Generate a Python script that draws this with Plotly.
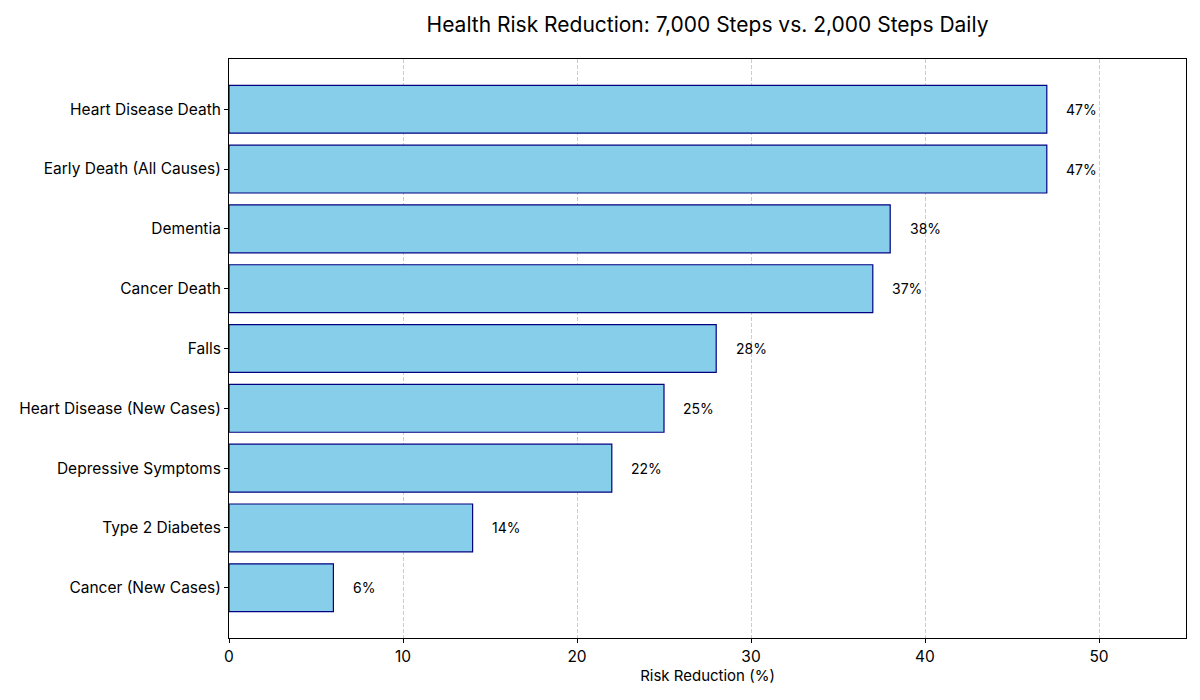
import plotly.graph_objects as go

categories = ["Cancer (New Cases)", "Type 2 Diabetes", "Depressive Symptoms",
              "Heart Disease (New Cases)", "Falls", "Cancer Death", "Dementia",
              "Early Death (All Causes)", "Heart Disease Death"]
values = [6, 14, 22, 25, 28, 37, 38, 47, 47]
labels = [f"{v}%" for v in values]

font_family = "Inter, Roboto, sans-serif"

fig = go.Figure()
fig.add_trace(go.Bar(
    x=values, y=categories, orientation="h",
    marker=dict(color="#87CEEB", line=dict(color="#000080", width=1.2)),
    width=0.8, hoverinfo="x+y",
))

for v, c, t in zip(values, categories, labels):
    fig.add_annotation(x=v + 1, y=c, text=t, xanchor="left", yanchor="middle",
                       showarrow=False, font=dict(size=14, color="black", family=font_family))

fig.update_layout(
    width=1200, height=700,
    paper_bgcolor="white", plot_bgcolor="white",
    margin=dict(l=229, r=14, t=59, b=62),
    title=dict(text="Health Risk Reduction: 7,000 Steps vs. 2,000 Steps Daily",
               x=0.5, xref="paper", xanchor="center", y=1 - 25 / 700, yanchor="middle",
               font=dict(size=21, color="black", family=font_family)),
    font=dict(family=font_family, color="black"),
    showlegend=False,
    bargap=0.2,
)
fig.update_xaxes(
    range=[0, 55], tickvals=[0, 10, 20, 30, 40, 50],
    showgrid=True, gridcolor="rgba(0,0,0,0.2)", griddash="4px,2px", gridwidth=1,
    layer="above traces",
    showline=True, linecolor="black", linewidth=1, mirror=True,
    ticks="outside", ticklen=4, tickcolor="black",
    tickfont=dict(size=15.5, family=font_family),
    title=dict(text="Risk Reduction (%)", font=dict(size=15, family=font_family), standoff=4),
    zeroline=False,
)
fig.update_yaxes(
    range=[-0.84, 8.84], showgrid=False,
    showline=True, linecolor="black", linewidth=1, mirror=True,
    ticks="outside", ticklen=4, tickcolor="black",
    tickfont=dict(size=15.5, family=font_family),
)

fig.write_html("out.html", config={"displayModeBar": False},
               post_script="document.body.style.margin='0';document.body.style.padding='0';")
